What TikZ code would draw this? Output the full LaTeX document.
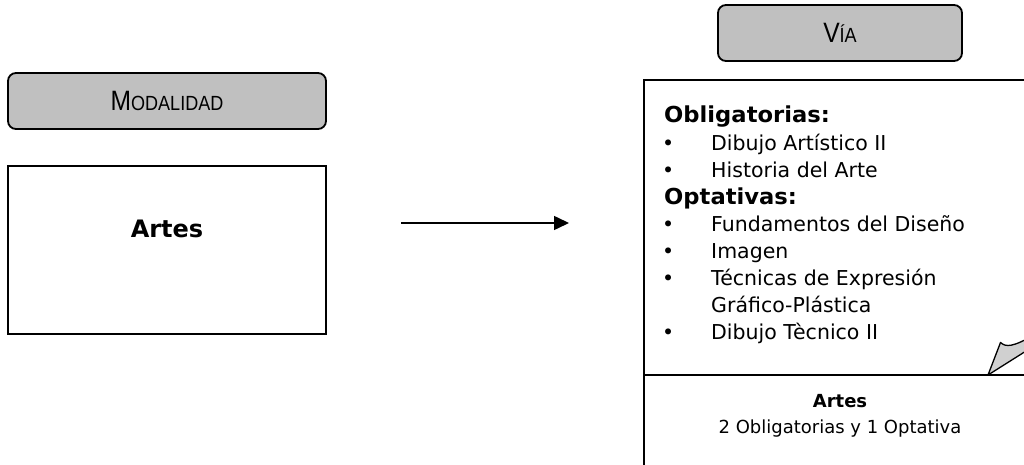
\documentclass[tikz,border=0pt]{standalone}
\usepackage{fontspec}
\setmainfont{DejaVu Sans}
\newfontfamily\tabfont{Liberation Sans}[FakeStretch=0.88]
\newfontfamily\headfont{DejaVu Sans}[FakeStretch=1.03]
\usetikzlibrary{arrows.meta}
\definecolor{tabgray}{HTML}{C0C0C0}
\definecolor{foldgray}{HTML}{D0D0D0}
\newcommand{\tabtext}[2]{{\fontsize{28}{32}\selectfont #1}{\fontsize{20.5}{24}\selectfont #2}}

\begin{document}
\begin{tikzpicture}[x=1pt,y=-1pt,
  tab/.style={draw,line width=1.8,fill=tabgray,rounded corners=8,font=\tabfont},
  box/.style={draw,line width=1.6},
  txt/.style={anchor=base west,inner sep=0,font=\fontsize{20.5}{24}\selectfont},
  head/.style={txt,font=\headfont\fontsize{22}{26}\selectfont\bfseries}]
  \clip(0,0)rectangle(1024,465);
  \node[tab,minimum width=318,minimum height=56](modalidad) at (167,101) {\tabtext{M}{ODALIDAD}};
  \node[box,minimum width=318,minimum height=168](artesbox) at (167,250) {};
  \node[font=\fontsize{24}{28}\selectfont\bfseries](artes) at (167,229) {Artes};
  \coordinate(from) at (401,223);
  \coordinate(to) at (569,223);
  \draw[line width=1.5,-{Triangle[length=15,width=14]}](from)--(to);
  \node[tab,minimum width=244,minimum height=56](via) at (840,33) {\tabtext{V}{ÍA}};
  \draw[box](644,80)rectangle(1034,475);
  \draw[box](644,375)--(1034,375);
  \filldraw[fill=foldgray,line width=1.3,line join=round](988,375)--(1000.5,342.5)
     .. controls (1006,347.5) and (1013,347) .. (1034,335)--(1034,346)--cycle;
  \node[head](oblig) at (664,123) {Obligatorias:};
  \node[head](optat) at (664,{123+27.1*3}) {Optativas:};
  \foreach\k/\row in {Dibujo Artístico II/1,Historia del Arte/2,Fundamentos del Diseño/4,Imagen/5,Técnicas de Expresión/6,Dibujo Tècnico II/8} {
     \node[txt](dot\row) at (662,{123+27.1*\row}) {•};
     \node[txt](item\row) at (711,{123+27.1*\row}) {\k};
   }
  \node[txt](item7) at (711,{123+27.1*7}) {Gráfico-Plástica};
  \node[anchor=base,inner sep=0,font=\fontsize{18}{22}\selectfont\bfseries](viaartes) at (840,407) {Artes};
  \node[anchor=base,inner sep=0,font=\fontsize{18}{22}\selectfont](viareq) at (840,433) {2 Obligatorias y 1 Optativa};
\end{tikzpicture}
\end{document}
